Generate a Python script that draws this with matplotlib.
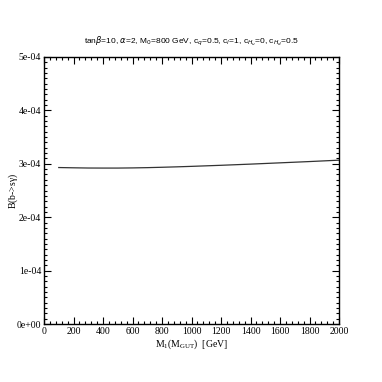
import matplotlib
matplotlib.use("Agg")
import matplotlib.pyplot as plt
from matplotlib.ticker import MultipleLocator, FixedLocator

m_half = [100, 200, 300, 400, 500, 600, 700, 800, 900, 1000,
          1100, 1200, 1300, 1400, 1500, 1600, 1700, 1800, 1900, 2000]
bsg = [2.930e-4, 2.925e-4, 2.921e-4, 2.920e-4, 2.920e-4, 2.923e-4, 2.928e-4, 2.935e-4,
       2.943e-4, 2.952e-4, 2.962e-4, 2.972e-4, 2.983e-4, 2.994e-4, 3.006e-4, 3.018e-4,
       3.030e-4, 3.042e-4, 3.055e-4, 3.068e-4]
yticks = [0, 1e-4, 2e-4, 3e-4, 4e-4, 5e-4]
ytick_labels = ["0e+00", "1e-04", "2e-04", "3e-04", "4e-04", "5e-04"]

plt.rcParams['font.family'] = ['Liberation Serif', 'DejaVu Serif']
plt.rcParams['mathtext.fontset'] = 'custom'
plt.rcParams['mathtext.rm'] = 'Liberation Serif'
plt.rcParams['mathtext.it'] = 'Liberation Serif'

fig = plt.figure(figsize=(3.82, 3.82), dpi=100)
ax = fig.add_axes([44/382, 58/382, 295/382, 267/382])
ax.plot(m_half, bsg, color='#333333', lw=0.9)
ax.set_xlim(0, 2000)
ax.set_ylim(0, 5e-4)
ax.xaxis.set_major_locator(MultipleLocator(200))
ax.xaxis.set_minor_locator(MultipleLocator(40))
ax.yaxis.set_major_locator(FixedLocator(yticks))
ax.set_yticklabels(ytick_labels)
ax.yaxis.set_minor_locator(MultipleLocator(1e-5))
ax.tick_params(which='both', direction='in', top=True, right=True, labelsize=7, width=0.8, pad=2)
ax.tick_params(which='major', length=5)
ax.tick_params(which='minor', length=2.5)
for s in ax.spines.values():
    s.set_linewidth(1.0)
ax.set_xlabel(r"M$_1$(M$_{GUT}$)  [GeV]", fontsize=7, labelpad=1)
ax.set_ylabel(r"B(b->s$\gamma$)", fontsize=7, va='center')
ax.yaxis.set_label_coords(-0.105, 0.5)
fig.text(0.5, 341/382, r"tan$\beta$=10, $\alpha$=2, M$_0$=800 GeV, c$_q$=0.5, c$_l$=1, c$_{H_u}$=0, c$_{H_d}$=0.5",
         ha='center', va='center', fontsize=6, family=['Liberation Sans', 'DejaVu Sans'],
         math_fontfamily='dejavusans')
fig.savefig("out.png", dpi=100)
